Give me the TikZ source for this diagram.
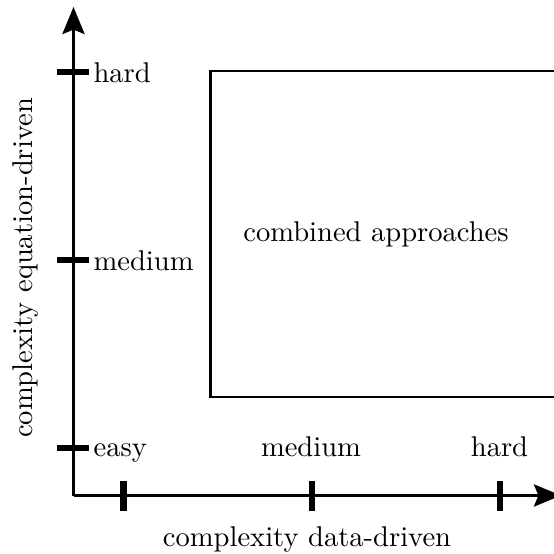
\documentclass[tikz,border=0pt]{standalone}
\usetikzlibrary{arrows.meta}
\begin{document}
\begin{tikzpicture}[x=0.35pt,y=-0.35pt,
  axisline/.style={line width=0.8pt,-{Stealth[length=9.5pt,width=7.8pt,inset=1.6pt]}},
  tickmark/.style={line width=2.2pt},
  lbl/.style={inner sep=0pt,font=\fontsize{10}{12}\selectfont}]
\useasboundingbox (0,0) rectangle (554,554);
\clip (0,0) rectangle (554,554);
% coordinates
\coordinate (o) at (73.5,495.5);
\coordinate (ytop) at (73.5,7);
\coordinate (xend) at (561,495.5);
% axes
\draw[axisline] (o) -- (ytop);
\draw[axisline] (o) -- (xend);
% y ticks
\foreach \n/\y in {ye/448, ym/260, yh/72}{
  \coordinate (\n a) at (57,\y);
  \coordinate (\n b) at (89,\y);
  \draw[tickmark] (\n a) -- (\n b);
}
% x ticks
\foreach \n/\x in {xe/123.5, xm/312, xh/500}{
  \coordinate (\n a) at (\x,481);
  \coordinate (\n b) at (\x,511);
  \draw[tickmark] (\n a) -- (\n b);
}
% y tick labels
\node[lbl,anchor=base west] (lyh) at (93,82) {hard};
\node[lbl,anchor=base west] (lym) at (93,270) {medium};
\node[lbl,anchor=base west] (lye) at (93,456) {easy};
% x tick labels
\node[lbl,anchor=base] (lxm) at (311,456) {medium};
\node[lbl,anchor=base] (lxh) at (499.5,456) {hard};
% axis titles
\node[lbl,anchor=base] (xtitle) at (307,546) {complexity data-driven};
\node[lbl,anchor=base,rotate=90] (ytitle) at (33,268) {complexity equation-driven};
% box
\draw[line width=0.9pt] (210.5,71) rectangle (620,397);
\node[lbl,anchor=base] (comb) at (376,241) {combined approaches};
\end{tikzpicture}
\end{document}
